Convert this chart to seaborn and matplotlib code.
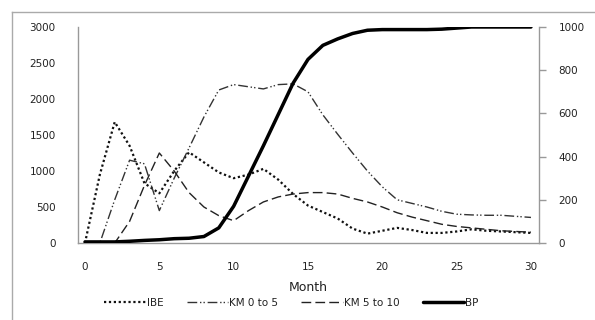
import numpy as np
import pandas as pd
import matplotlib
matplotlib.use("Agg")
import matplotlib.pyplot as plt
import seaborn as sns
from matplotlib.lines import Line2D

months = list(range(0, 31))
ibe = [0, 950, 1680, 1350, 830, 690, 1000, 1260, 1120, 980, 900, 950, 1030, 880, 680,
       520, 430, 340, 200, 130, 170, 210, 180, 140, 140, 160, 190, 170, 160, 150, 140]
km0to5 = [0, 0, 600, 1150, 1100, 450, 900, 1320, 1750, 2125, 2200, 2170, 2140, 2200, 2210,
          2100, 1780, 1510, 1250, 1000, 780, 600, 550, 500, 440, 400, 390, 385, 385, 370, 355]
km5to10 = [0, 0, 0, 300, 800, 1250, 1000, 700, 500, 380, 310, 450, 570, 640, 680,
           700, 700, 680, 620, 570, 500, 420, 360, 310, 260, 230, 210, 190, 170, 160, 150]
bp = [5, 5, 5, 8, 12, 15, 20, 22, 30, 70, 170, 310, 450, 595, 740,
      850, 915, 945, 970, 985, 988, 988, 988, 988, 990, 995, 1000, 1000, 1000, 1000, 1000]

left_ticks = [0, 500, 1000, 1500, 2000, 2500, 3000]
right_ticks = [0, 200, 400, 600, 800, 1000]
x_ticks = [0, 5, 10, 15, 20, 25, 30]

df = pd.DataFrame({"Month": months, "IBE": ibe, "KM 0 to 5": km0to5,
                   "KM 5 to 10": km5to10, "BP": bp})

sns.set_style("white")
plt.rcParams["font.family"] = ["DejaVu Sans"]

fig = plt.figure(figsize=(5.95, 3.20), dpi=100)

# outer frame: an empty background axes whose left and top spines form the border
frame = fig.add_axes([11.5/595, -0.2, 1.0, 1.2 - 11.5/320])
frame.set_xticks([])
frame.set_yticks([])
frame.set_facecolor("none")
for s in ("right", "bottom"):
    frame.spines[s].set_visible(False)
for s in ("left", "top"):
    frame.spines[s].set_color("#aaaaaa")
    frame.spines[s].set_linewidth(1.0)

ax = fig.add_axes([78/595, 1-243/320, (539-78)/595, (243-27)/320])
ax2 = ax.twinx()

sns.lineplot(data=df, x="Month", y="IBE", ax=ax, color="#111111", lw=1.6,
             linestyle=(0, (1, 1.2)), legend=False)
sns.lineplot(data=df, x="Month", y="KM 0 to 5", ax=ax, color="#333333", lw=1.0,
             linestyle=(0, (7, 2, 1, 1.5, 1, 2)), legend=False)
sns.lineplot(data=df, x="Month", y="KM 5 to 10", ax=ax, color="#222222", lw=1.0,
             linestyle=(0, (7, 3)), legend=False)
sns.lineplot(data=df, x="Month", y="BP", ax=ax2, color="black", lw=2.5, legend=False)

ax.set_xlim(-0.47, 30.54)
ax.set_ylim(0, 3000)
ax2.set_ylim(0, 1000)
ax.set_xticks(x_ticks)
ax.set_yticks(left_ticks)
ax2.set_yticks(right_ticks)
ax.set_ylabel("")
ax2.set_ylabel("")
ax.set_xlabel("Month", fontsize=9, color="#222222", labelpad=6)

for a in (ax, ax2):
    a.spines["top"].set_visible(False)
    a.set_facecolor("none")
ax.spines["right"].set_visible(False)
ax2.spines["left"].set_visible(False)
ax2.spines["bottom"].set_visible(False)
for s in ("left", "bottom"):
    ax.spines[s].set_color("#999999")
    ax.spines[s].set_linewidth(1.0)
ax2.spines["right"].set_color("#999999")
ax2.spines["right"].set_linewidth(1.0)

ax.tick_params(axis="y", length=0, pad=16, labelsize=7.5, colors="#222222")
ax.tick_params(axis="x", length=0, pad=14, labelsize=7.5, colors="#222222")
ax2.tick_params(axis="y", length=5, width=1, color="#999999", pad=9,
                labelsize=7.5, labelcolor="#222222", direction="out")

handles = [
    Line2D([], [], color="#111111", lw=1.6, linestyle=(0, (1, 1.2))),
    Line2D([], [], color="#333333", lw=1.0, linestyle=(0, (7, 2, 1, 1.5, 1, 2))),
    Line2D([], [], color="#222222", lw=1.0, linestyle=(0, (7, 3))),
    Line2D([], [], color="black", lw=2.5),
]
fig.legend(handles, ["IBE", "KM 0 to 5", "KM 5 to 10", "BP"], loc="center",
           bbox_to_anchor=(0.49, 1-303/320), ncol=4, frameon=False, fontsize=7.5,
           handlelength=4.0, handletextpad=0.1, columnspacing=2.2,
           labelcolor="#222222")

fig.savefig("out.png", dpi=100)
